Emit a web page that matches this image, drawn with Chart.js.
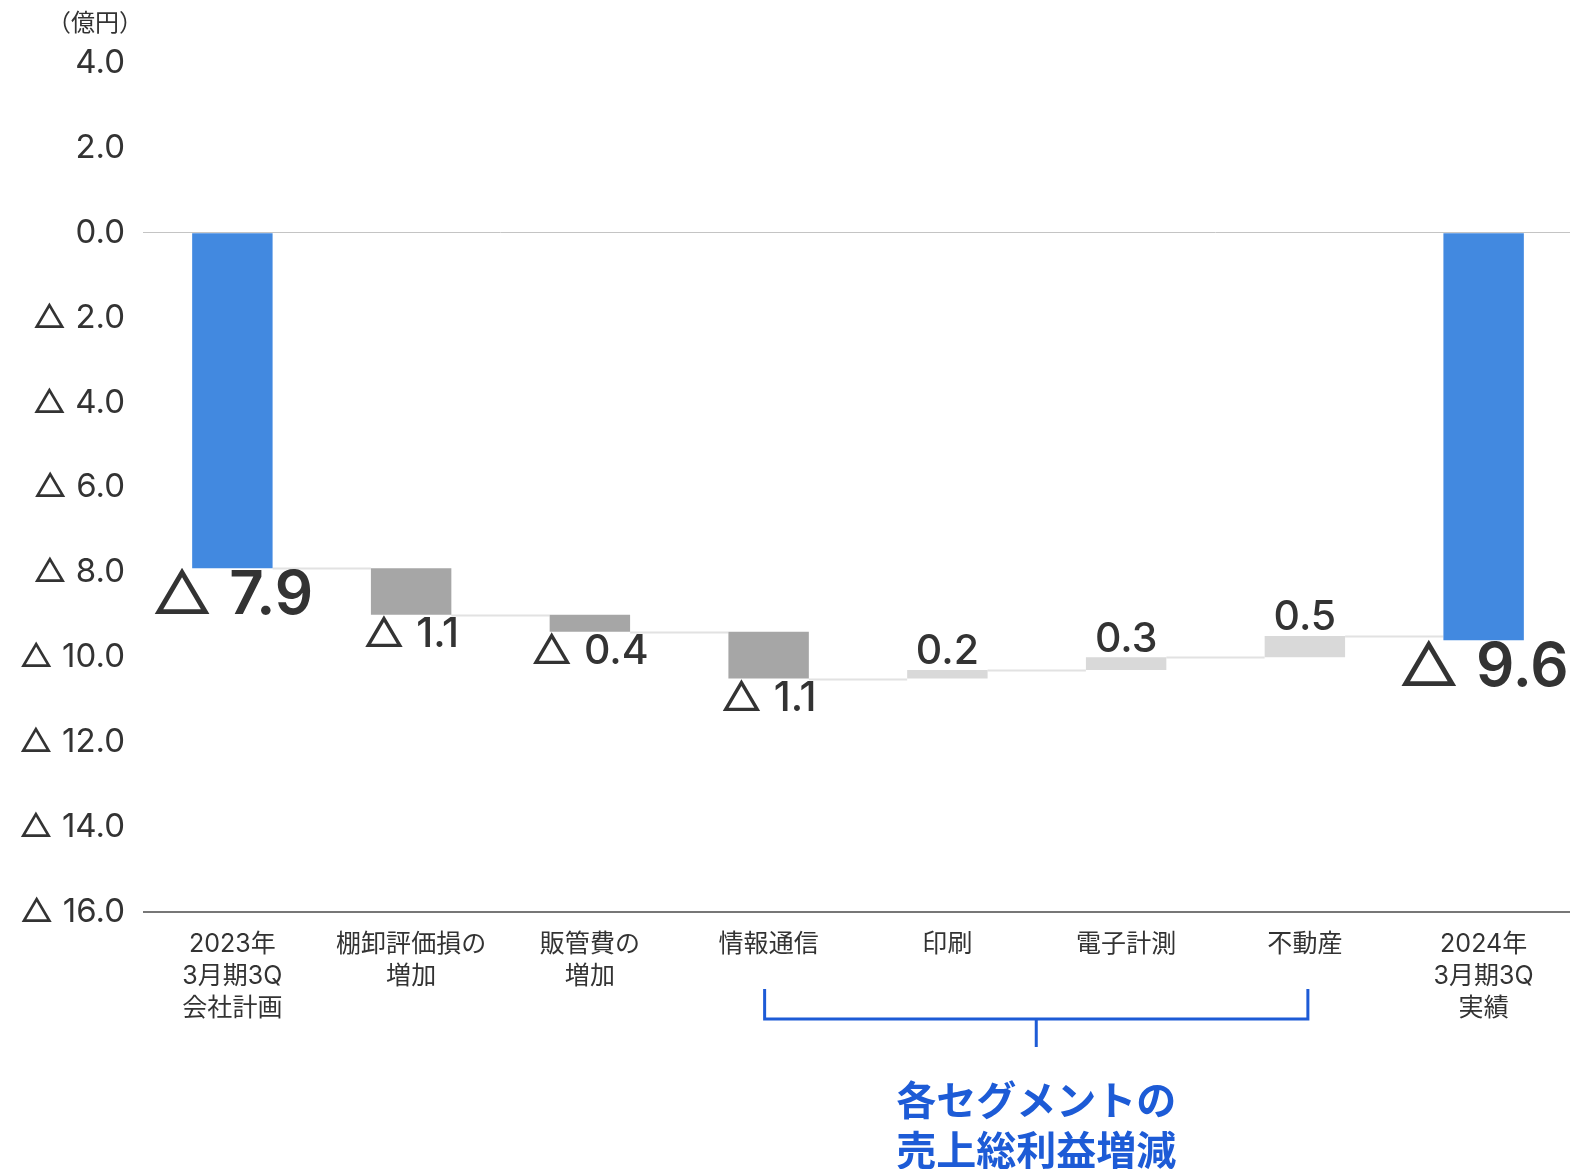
<!DOCTYPE html>
<html lang="ja">
<head>
<meta charset="utf-8">
<title>売上総利益増減</title>
<script src="https://cdn.jsdelivr.net/npm/chart.js@4.4.1/dist/chart.umd.min.js"></script>
<style>
  html, body { margin: 0; padding: 0; background: #ffffff; overflow: hidden; }
  #wrap { width: 1573px; height: 1169px; position: relative; }
</style>
</head>
<body>
<div id="wrap"><canvas id="chart"></canvas></div>
<script>
// Categories along the x axis (multi-line labels as arrays)
const categories = [
  ['2023年', '3月期3Q', '会社計画'],
  ['棚卸評価損の', '増加'],
  ['販管費の', '増加'],
  '情報通信',
  '印刷',
  '電子計測',
  '不動産',
  ['2024年', '3月期3Q', '実績']
];

// Gross profit: plan, step changes, actual (億円)
const planValue = -7.9;
const changes = [-1.1, -0.4, -1.1, 0.2, 0.3, 0.5];
const actualValue = -9.6;

// Y axis range and step
const yMin = -16;
const yMax = 4;
const yStep = 2;

// Bracket caption under the segment categories
const bracketFrom = 3;
const bracketTo = 6;
const bracketCaption = ['各セグメントの', '売上総利益増減'];
const unitLabel = '（億円）';

const COLOR_TOTAL = '#4289e0';
const COLOR_DOWN = '#a6a6a6';
const COLOR_UP = '#d9d9d9';
const TEXT = '#333333';
const BLUE_TEXT = '#1d5bd6';
const FONT = 'Inter, "DejaVu Sans", "Noto Sans CJK JP", sans-serif';
const FONT_CJK = '"Noto Sans CJK JP", "Noto Sans", sans-serif';
const MINUS = '△';

// Build floating bars [start, end] from the running total
const ranges = [[0, planValue]];
const levels = [planValue];
let running = planValue;
changes.forEach(c => {
  const next = Math.round((running + c) * 10) / 10;
  ranges.push([running, next]);
  running = next;
  levels.push(running);
});
ranges.push([0, actualValue]);
const shown = [planValue, ...changes, actualValue];
const colors = shown.map((v, i) =>
  (i === 0 || i === shown.length - 1) ? COLOR_TOTAL : (v < 0 ? COLOR_DOWN : COLOR_UP));

const fmt = v => {
  const a = Math.abs(v).toFixed(1);
  return v < 0 ? MINUS + ' ' + a : a;
};

Chart.defaults.font.family = FONT;

// Connector lines between consecutive bars
const connectorPlugin = {
  id: 'connectors',
  beforeDatasetsDraw(chart) {
    const { ctx } = chart;
    const meta = chart.getDatasetMeta(0);
    const y = chart.scales.y;
    ctx.save();
    ctx.strokeStyle = '#e2e2e2';
    ctx.lineWidth = 2;
    for (let i = 0; i < meta.data.length - 1; i++) {
      const a = meta.data[i], b = meta.data[i + 1];
      const py = Math.round(y.getPixelForValue(levels[i])) + 0.5;
      ctx.beginPath();
      ctx.moveTo(a.x + a.width / 2, py);
      ctx.lineTo(b.x - b.width / 2, py);
      ctx.stroke();
    }
    ctx.restore();
  }
};

// Draw "△ n.n" centred at (cx, cy): the triangle in a light weight, the number heavier
function drawValue(ctx, v, cx, cy, size, weight) {
  const num = Math.abs(v).toFixed(1);
  const numFont = weight + ' ' + size + 'px ' + FONT;
  const triFont = '400 ' + size + 'px ' + FONT;
  ctx.textAlign = 'left';
  ctx.font = numFont;
  const wNum = ctx.measureText(num).width;
  let wPre = 0;
  const pre = v < 0 ? MINUS + ' ' : '';
  if (pre) { ctx.font = triFont; wPre = ctx.measureText(pre).width; }
  const x0 = cx - (wPre + wNum) / 2;
  if (pre) { ctx.font = triFont; ctx.fillText(pre, x0, cy); }
  ctx.font = numFont;
  ctx.fillText(num, x0 + wPre, cy);
}

// Value labels, unit label and the segment bracket
const annotatePlugin = {
  id: 'annotate',
  afterDraw(chart) {
    const { ctx } = chart;
    const meta = chart.getDatasetMeta(0);
    const y = chart.scales.y;
    const x = chart.scales.x;
    ctx.save();
    ctx.fillStyle = TEXT;
    ctx.textBaseline = 'middle';
    meta.data.forEach((bar, i) => {
      const v = shown[i];
      const total = (i === 0 || i === shown.length - 1);
      const lo = Math.min(ranges[i][0], ranges[i][1]);
      const hi = Math.max(ranges[i][0], ranges[i][1]);
      if (total) {
        drawValue(ctx, v, bar.x, y.getPixelForValue(lo) + 28, 60, 600);
      } else if (v < 0) {
        drawValue(ctx, v, bar.x, y.getPixelForValue(lo) + 20, 41, 500);
      } else {
        drawValue(ctx, v, bar.x, y.getPixelForValue(hi) - 18, 41, 500);
      }
    });

    // unit
    ctx.textAlign = 'center';
    ctx.font = '24px ' + FONT_CJK;
    ctx.fillStyle = TEXT;
    ctx.fillText(unitLabel, 95, 22);

    // bracket
    const x0 = x.getPixelForValue(bracketFrom) - 4;
    const x1 = x.getPixelForValue(bracketTo) + 3;
    const xm = (x0 + x1) / 2;
    const top = y.bottom + 77, mid = y.bottom + 107, bot = y.bottom + 135;
    ctx.strokeStyle = BLUE_TEXT;
    ctx.lineWidth = 3;
    ctx.beginPath();
    ctx.moveTo(x0, top); ctx.lineTo(x0, mid); ctx.lineTo(x1, mid); ctx.lineTo(x1, top);
    ctx.moveTo(xm, mid); ctx.lineTo(xm, bot);
    ctx.stroke();

    ctx.fillStyle = BLUE_TEXT;
    ctx.font = 'bold 40px ' + FONT_CJK;
    bracketCaption.forEach((line, k) => {
      ctx.fillText(line, xm, y.bottom + 188 + k * 50);
    });
    ctx.restore();
  }
};

new Chart(document.getElementById('chart'), {
  type: 'bar',
  data: {
    labels: categories,
    datasets: [{
      data: ranges,
      backgroundColor: colors,
      borderWidth: 0,
      borderSkipped: false,
      barPercentage: 0.45,
      categoryPercentage: 1.0
    }]
  },
  options: {
    responsive: true,
    maintainAspectRatio: false,
    animation: false,
    layout: { padding: { top: 63, right: 0, bottom: 137, left: 0 } },
    plugins: {
      legend: { display: false },
      tooltip: { enabled: false }
    },
    scales: {
      x: {
        grid: { display: false },
        border: { display: false },
        ticks: {
          color: TEXT,
          font: { size: 25, lineHeight: 1.28 },
          padding: 8,
          maxRotation: 0,
          autoSkip: false
        }
      },
      y: {
        min: yMin,
        max: yMax,
        afterFit(scale) { scale.width = 143; },
        border: { display: false },
        grid: {
          drawTicks: false,
          color: c => c.tick.value === 0 ? '#c4c4c4' : (c.tick.value === yMin ? '#777777' : 'rgba(0,0,0,0)'),
          lineWidth: c => c.tick.value === yMin ? 2 : 1
        },
        ticks: {
          stepSize: yStep,
          color: TEXT,
          padding: 18,
          font: { size: 33 },
          callback: v => fmt(v)
        }
      }
    }
  },
  plugins: [connectorPlugin, annotatePlugin]
});
</script>
</body>
</html>
